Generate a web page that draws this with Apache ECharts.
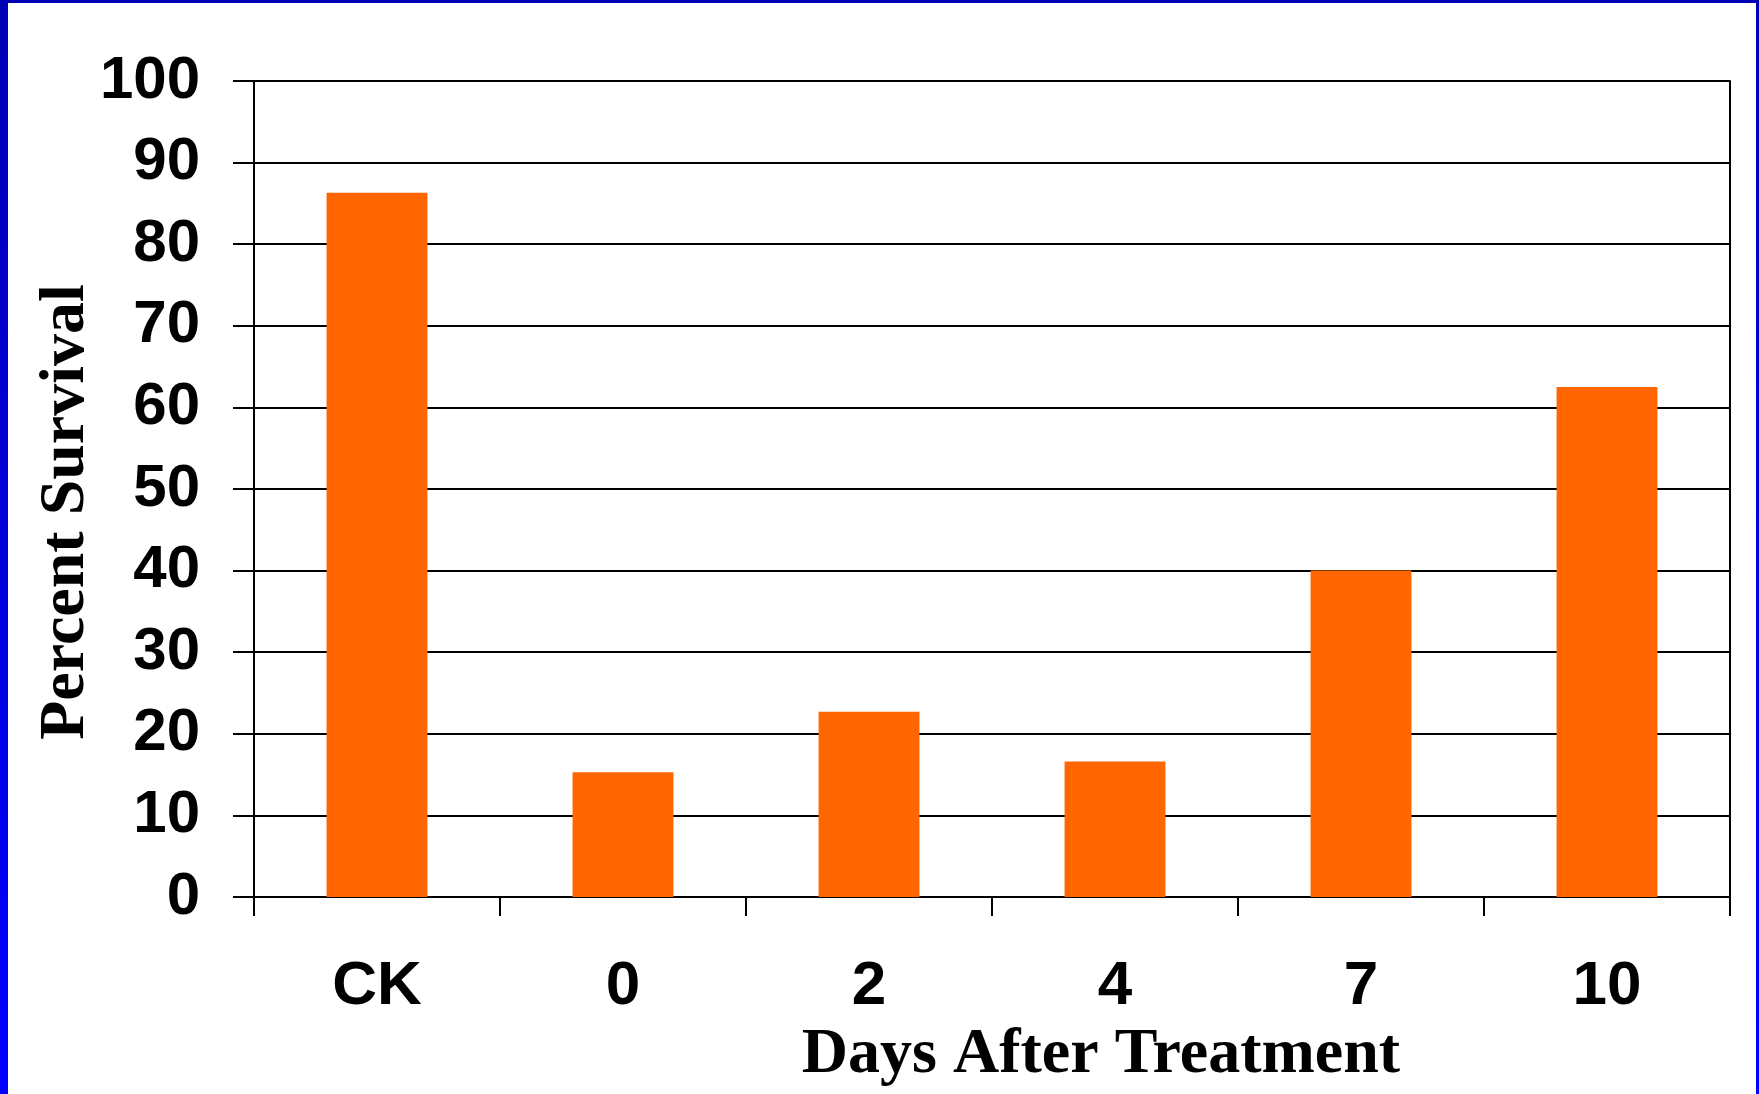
<!DOCTYPE html>
<html>
<head>
<meta charset="utf-8">
<script src="https://cdn.jsdelivr.net/npm/echarts@6/dist/echarts.min.js"></script>
<style>
  html, body { margin: 0; padding: 0; width: 1759px; height: 1094px; overflow: hidden; }
  body { background: linear-gradient(to bottom, #0000b4 0%, #0000ff 100%); position: relative; }
  #chart { position: absolute; left: 8px; top: 3px; width: 1748px; height: 1091px; background: #ffffff; }
</style>
</head>
<body>
<div id="chart"></div>
<script>
const categories = ['CK', '0', '2', '4', '7', '10'];
const survival = [86.3, 15.3, 22.7, 16.6, 40.0, 62.5];
const yTicks = { min: 0, max: 100, interval: 10 };
const xTitle = 'Days After Treatment';
const yTitle = 'Percent Survival';

const chart = echarts.init(document.getElementById('chart'), null, { renderer: 'canvas' });
const black = '#000000';
chart.setOption({
  animation: false,
  backgroundColor: '#ffffff',
  grid: { left: 246, top: 78, right: 26, bottom: 197, containLabel: false, outerBoundsMode: 'none' },
  xAxis: {
    type: 'category',
    data: categories,
    boundaryGap: true,
    axisLine: { show: true, lineStyle: { color: black, width: 2 } },
    axisTick: { show: true, alignWithLabel: false, length: 19, lineStyle: { color: black, width: 2 } },
    axisLabel: { margin: 59, color: black, fontFamily: 'Liberation Sans, Arial, sans-serif', fontWeight: 'bold', fontSize: 62 },
    splitLine: { show: false },
    name: xTitle,
    nameLocation: 'middle',
    nameGap: 126,
    nameMoveOverlap: false,
    nameTextStyle: { color: black, fontFamily: 'Liberation Serif, Times New Roman, serif', fontWeight: 'bold', fontSize: 64, padding: [0, 0, 0, 218] }
  },
  yAxis: [{
    type: 'value',
    min: yTicks.min, max: yTicks.max, interval: yTicks.interval,
    axisLine: { show: true, lineStyle: { color: black, width: 2 } },
    axisTick: { show: true, length: 21, lineStyle: { color: black, width: 2 } },
    axisLabel: { margin: 54, color: black, fontFamily: 'Liberation Sans, Arial, sans-serif', fontWeight: 'bold', fontSize: 60 },
    splitLine: { show: true, lineStyle: { color: black, width: 2 } },
    name: yTitle,
    nameLocation: 'middle',
    nameGap: 156,
    nameRotate: 90,
    nameMoveOverlap: false,
    nameTextStyle: { color: black, fontFamily: 'Liberation Serif, Times New Roman, serif', fontWeight: 'bold', fontSize: 64, padding: [0, 46, 0, 0] }
  }, {
    type: 'value', position: 'right',
    min: yTicks.min, max: yTicks.max, interval: yTicks.interval,
    axisLine: { show: true, lineStyle: { color: black, width: 2 } },
    axisTick: { show: false }, axisLabel: { show: false }, splitLine: { show: false }
  }],
  series: [{
    type: 'bar',
    data: survival,
    barWidth: '41%',
    itemStyle: { color: '#ff6600' },
    z: 3
  }]
});
</script>
</body>
</html>
